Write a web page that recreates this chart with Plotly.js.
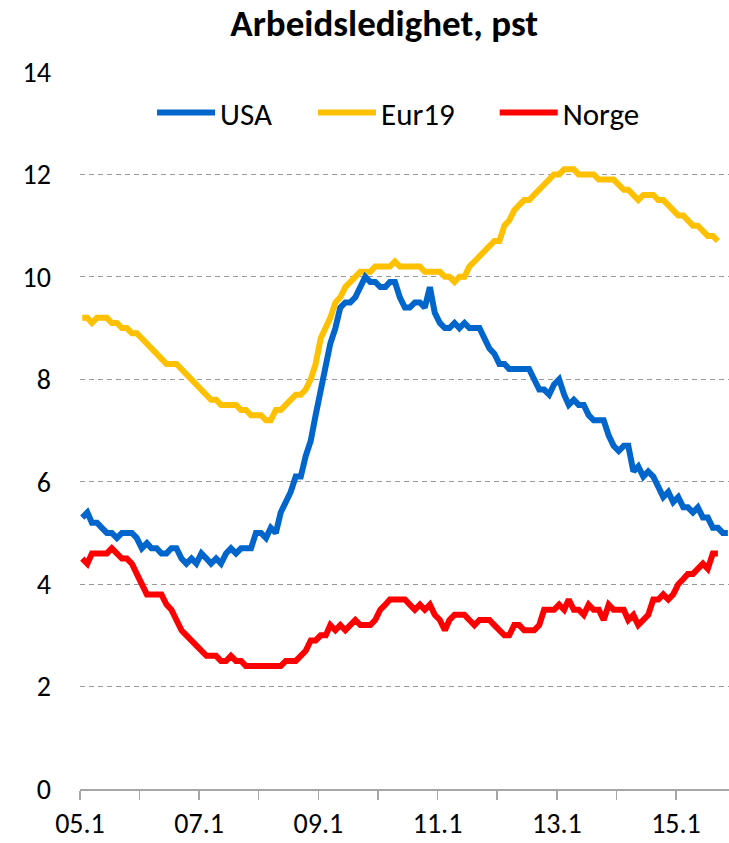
<!DOCTYPE html>
<html>
<head>
<meta charset="utf-8">
<script src="https://cdn.plot.ly/plotly-3.0.1.min.js"></script>
<style>html,body{margin:0;padding:0;background:#fff}#chart{width:729px;height:843px}</style>
</head>
<body>
<div id="chart"></div>
<script>
// Monthly series starting January 2005
const startYear = 2005;
const seriesNames = ['USA', 'Eur19', 'Norge'];
const seriesColors = ['#0066CC', '#FFC000', '#FF0000'];

const usa = [
  5.3,5.4,5.2,5.2,5.1,5.0,5.0,4.9,5.0,5.0,5.0,4.9,
  4.7,4.8,4.7,4.7,4.6,4.6,4.7,4.7,4.5,4.4,4.5,4.4,
  4.6,4.5,4.4,4.5,4.4,4.6,4.7,4.6,4.7,4.7,4.7,5.0,
  5.0,4.9,5.1,5.0,5.4,5.6,5.8,6.1,6.1,6.5,6.8,7.3,
  7.8,8.3,8.7,9.0,9.4,9.5,9.5,9.6,9.8,10.0,9.9,9.9,
  9.8,9.8,9.9,9.9,9.6,9.4,9.4,9.5,9.5,9.4,9.8,9.3,
  9.1,9.0,9.0,9.1,9.0,9.1,9.0,9.0,9.0,8.8,8.6,8.5,
  8.3,8.3,8.2,8.2,8.2,8.2,8.2,8.0,7.8,7.8,7.7,7.9,
  8.0,7.7,7.5,7.6,7.5,7.5,7.3,7.2,7.2,7.2,6.9,6.7,
  6.6,6.7,6.7,6.2,6.3,6.1,6.2,6.1,5.9,5.7,5.8,5.6,
  5.7,5.5,5.5,5.4,5.5,5.3,5.3,5.1,5.1,5.0,5.0
];

const eur19 = [
  9.2,9.2,9.1,9.2,9.2,9.2,9.1,9.1,9.0,9.0,8.9,8.9,
  8.8,8.7,8.6,8.5,8.4,8.3,8.3,8.3,8.2,8.1,8.0,7.9,
  7.8,7.7,7.6,7.6,7.5,7.5,7.5,7.5,7.4,7.4,7.3,7.3,
  7.3,7.2,7.2,7.4,7.4,7.5,7.6,7.7,7.7,7.8,8.0,8.3,
  8.8,9.0,9.2,9.5,9.6,9.8,9.9,10.0,10.1,10.1,10.1,10.2,
  10.2,10.2,10.2,10.3,10.2,10.2,10.2,10.2,10.2,10.1,10.1,10.1,
  10.1,10.0,10.0,9.9,10.0,10.0,10.2,10.3,10.4,10.5,10.6,10.7,
  10.7,11.0,11.1,11.3,11.4,11.5,11.5,11.6,11.7,11.8,11.9,12.0,
  12.0,12.1,12.1,12.1,12.0,12.0,12.0,12.0,11.9,11.9,11.9,11.9,
  11.8,11.7,11.7,11.6,11.5,11.6,11.6,11.6,11.5,11.5,11.4,11.3,
  11.2,11.2,11.1,11.0,11.0,10.9,10.8,10.8,10.7
];

const norge = [
  4.5,4.4,4.6,4.6,4.6,4.6,4.7,4.6,4.5,4.5,4.4,4.2,
  4.0,3.8,3.8,3.8,3.8,3.6,3.5,3.3,3.1,3.0,2.9,2.8,
  2.7,2.6,2.6,2.6,2.5,2.5,2.6,2.5,2.5,2.4,2.4,2.4,
  2.4,2.4,2.4,2.4,2.4,2.5,2.5,2.5,2.6,2.7,2.9,2.9,
  3.0,3.0,3.2,3.1,3.2,3.1,3.2,3.3,3.2,3.2,3.2,3.3,
  3.5,3.6,3.7,3.7,3.7,3.7,3.6,3.5,3.6,3.5,3.6,3.4,
  3.3,3.1,3.3,3.4,3.4,3.4,3.3,3.2,3.3,3.3,3.3,3.2,
  3.1,3.0,3.0,3.2,3.2,3.1,3.1,3.1,3.2,3.5,3.5,3.5,
  3.6,3.5,3.7,3.5,3.5,3.4,3.6,3.5,3.5,3.3,3.6,3.5,
  3.5,3.5,3.3,3.4,3.2,3.3,3.4,3.7,3.7,3.8,3.7,3.8,
  4.0,4.1,4.2,4.2,4.3,4.4,4.3,4.6,4.6
];

const tickDates = ['2005-01-01','2006-01-01','2007-01-01','2008-01-01','2009-01-01','2010-01-01',
                   '2011-01-01','2012-01-01','2013-01-01','2014-01-01','2015-01-01'];
const tickLabels = ['05.1','','07.1','','09.1','','11.1','','13.1','','15.1'];
const yTicks = [0,2,4,6,8,10,12,14];

function monthDates(n) {
  const out = [];
  for (let i = 0; i < n; i++) {
    const y = startYear + Math.floor(i / 12);
    const m = (i % 12) + 1;
    out.push(y + '-' + String(m).padStart(2, '0') + '-15');
  }
  return out;
}

const FONT = 'Carlito, Lato, "Liberation Sans", sans-serif';
const seriesData = [usa, eur19, norge];
const legendIds = ['legend', 'legend2', 'legend3'];
const legendX = [0.111, 0.359, 0.639];

const traces = [];
// draw Eur19 first, then Norge, then USA on top
const drawOrder = [1, 2, 0];
drawOrder.forEach(i => {
  traces.push({
    type: 'scatter',
    mode: 'lines',
    name: seriesNames[i],
    x: monthDates(seriesData[i].length),
    y: seriesData[i],
    line: {color: seriesColors[i], width: 6},
    legend: legendIds[i],
    hoverinfo: 'skip'
  });
});

function legendSpec(x) {
  return {
    orientation: 'h',
    x: x, xanchor: 'left',
    y: 0.943, yanchor: 'middle',
    font: {family: FONT, size: 31, color: '#000000'},
    bgcolor: 'rgba(0,0,0,0)',
    itemwidth: 58
  };
}

const layout = {
  width: 729,
  height: 843,
  margin: {l: 80, r: 0, t: 72, b: 54},
  paper_bgcolor: '#ffffff',
  plot_bgcolor: '#ffffff',
  font: {family: FONT, size: 28, color: '#000000'},
  title: {
    text: '<b>Arbeidsledighet, pst</b>',
    font: {family: FONT, size: 37, color: '#000000'},
    xref: 'container', x: 0.527, xanchor: 'center',
    yref: 'container', y: 0.973, yanchor: 'middle'
  },
  showlegend: true,
  legend: legendSpec(legendX[0]),
  legend2: legendSpec(legendX[1]),
  legend3: legendSpec(legendX[2]),
  xaxis: {
    type: 'date',
    range: ['2005-01-01', '2015-11-22'],
    tickmode: 'array',
    tickvals: tickDates,
    ticktext: tickLabels,
    ticks: 'outside',
    ticklen: 9,
    tickwidth: 1.5,
    tickcolor: '#A6A6A6',
    showline: true,
    linecolor: '#A6A6A6',
    linewidth: 1.5,
    showgrid: false,
    zeroline: false,
    tickfont: {family: FONT, size: 28, color: '#000000'},
    fixedrange: true
  },
  yaxis: {
    range: [0, 14],
    tickmode: 'array',
    tickvals: yTicks,
    ticks: '',
    showline: false,
    showgrid: true,
    gridcolor: '#999999',
    gridwidth: 1,
    griddash: '5px,4px',
    zeroline: false,
    ticklabelstandoff: 28,
    tickfont: {family: FONT, size: 28, color: '#000000'},
    fixedrange: true
  }
};

Plotly.newPlot('chart', traces, layout, {displayModeBar: false, staticPlot: true});
</script>
</body>
</html>
